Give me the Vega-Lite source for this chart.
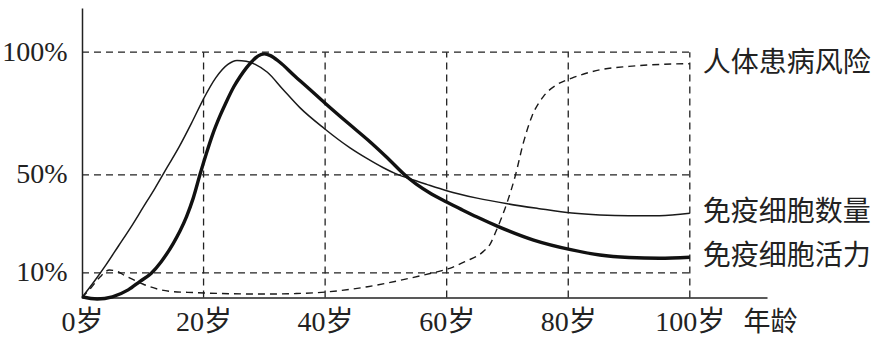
{
  "$schema": "https://vega.github.io/schema/vega-lite/v6.json",
  "autosize": "none",
  "padding": {"left": 82, "top": 8, "right": 127, "bottom": 40},
  "width": 685,
  "height": 289.5,
  "background": "white",
  "config": {"view": {"stroke": null}},
  "datasets": {
    "curves": [
      {"series": "免疫细胞数量", "age": 0, "value": 0},
      {"series": "免疫细胞数量", "age": 2, "value": 6.5},
      {"series": "免疫细胞数量", "age": 4, "value": 13.5},
      {"series": "免疫细胞数量", "age": 6, "value": 21},
      {"series": "免疫细胞数量", "age": 8, "value": 28.5},
      {"series": "免疫细胞数量", "age": 10, "value": 36.5},
      {"series": "免疫细胞数量", "age": 12, "value": 44.5},
      {"series": "免疫细胞数量", "age": 14, "value": 53},
      {"series": "免疫细胞数量", "age": 16, "value": 61.5},
      {"series": "免疫细胞数量", "age": 18, "value": 71},
      {"series": "免疫细胞数量", "age": 20, "value": 81},
      {"series": "免疫细胞数量", "age": 22, "value": 89.5},
      {"series": "免疫细胞数量", "age": 24, "value": 95},
      {"series": "免疫细胞数量", "age": 25.5, "value": 96.6},
      {"series": "免疫细胞数量", "age": 27, "value": 96.3},
      {"series": "免疫细胞数量", "age": 28.5, "value": 95},
      {"series": "免疫细胞数量", "age": 30.5, "value": 91.8},
      {"series": "免疫细胞数量", "age": 33, "value": 85},
      {"series": "免疫细胞数量", "age": 35.8, "value": 77.5},
      {"series": "免疫细胞数量", "age": 39.8, "value": 69},
      {"series": "免疫细胞数量", "age": 44.1, "value": 61},
      {"series": "免疫细胞数量", "age": 46.8, "value": 56.8},
      {"series": "免疫细胞数量", "age": 49.5, "value": 53},
      {"series": "免疫细胞数量", "age": 51.5, "value": 50.6},
      {"series": "免疫细胞数量", "age": 53.7, "value": 48.6},
      {"series": "免疫细胞数量", "age": 56.7, "value": 46.1},
      {"series": "免疫细胞数量", "age": 60, "value": 43.5},
      {"series": "免疫细胞数量", "age": 65, "value": 40.5},
      {"series": "免疫细胞数量", "age": 70, "value": 38.2},
      {"series": "免疫细胞数量", "age": 75, "value": 36.3},
      {"series": "免疫细胞数量", "age": 80.6, "value": 34.4},
      {"series": "免疫细胞数量", "age": 85.2, "value": 33.6},
      {"series": "免疫细胞数量", "age": 90, "value": 33.3},
      {"series": "免疫细胞数量", "age": 95, "value": 33.3},
      {"series": "免疫细胞数量", "age": 100, "value": 34.3},
      {"series": "免疫细胞活力", "age": 0, "value": 0.3},
      {"series": "免疫细胞活力", "age": 2.5, "value": -0.6},
      {"series": "免疫细胞活力", "age": 5, "value": 0.3},
      {"series": "免疫细胞活力", "age": 7.6, "value": 3.1},
      {"series": "免疫细胞活力", "age": 9.5, "value": 6.5},
      {"series": "免疫细胞活力", "age": 11.4, "value": 9.9},
      {"series": "免疫细胞活力", "age": 13, "value": 14.5},
      {"series": "免疫细胞活力", "age": 15, "value": 22},
      {"series": "免疫细胞活力", "age": 16.1, "value": 27},
      {"series": "免疫细胞活力", "age": 17.2, "value": 33},
      {"series": "免疫细胞活力", "age": 18.3, "value": 40.5},
      {"series": "免疫细胞活力", "age": 19.4, "value": 50},
      {"series": "免疫细胞活力", "age": 20.5, "value": 59},
      {"series": "免疫细胞活力", "age": 21.5, "value": 66.5},
      {"series": "免疫细胞活力", "age": 22.7, "value": 74},
      {"series": "免疫细胞活力", "age": 23.7, "value": 79.5},
      {"series": "免疫细胞活力", "age": 25, "value": 86},
      {"series": "免疫细胞活力", "age": 26, "value": 90},
      {"series": "免疫细胞活力", "age": 28, "value": 96.3},
      {"series": "免疫细胞活力", "age": 29, "value": 98.5},
      {"series": "免疫细胞活力", "age": 30, "value": 99.3},
      {"series": "免疫细胞活力", "age": 31, "value": 98.6},
      {"series": "免疫细胞活力", "age": 32.5, "value": 96},
      {"series": "免疫细胞活力", "age": 35, "value": 90.3},
      {"series": "免疫细胞活力", "age": 37.5, "value": 84.8},
      {"series": "免疫细胞活力", "age": 40, "value": 79.2},
      {"series": "免疫细胞活力", "age": 44, "value": 70.6},
      {"series": "免疫细胞活力", "age": 47, "value": 64.3},
      {"series": "免疫细胞活力", "age": 50, "value": 57.5},
      {"series": "免疫细胞活力", "age": 53.7, "value": 48.7},
      {"series": "免疫细胞活力", "age": 55, "value": 46.2},
      {"series": "免疫细胞活力", "age": 57.5, "value": 42.2},
      {"series": "免疫细胞活力", "age": 60, "value": 38.9},
      {"series": "免疫细胞活力", "age": 62.5, "value": 35.8},
      {"series": "免疫细胞活力", "age": 65, "value": 32.8},
      {"series": "免疫细胞活力", "age": 68.5, "value": 28.9},
      {"series": "免疫细胞活力", "age": 74.3, "value": 23.4},
      {"series": "免疫细胞活力", "age": 80.6, "value": 19.4},
      {"series": "免疫细胞活力", "age": 85.2, "value": 17.3},
      {"series": "免疫细胞活力", "age": 90, "value": 16.3},
      {"series": "免疫细胞活力", "age": 95, "value": 16},
      {"series": "免疫细胞活力", "age": 100, "value": 16.4},
      {"series": "人体患病风险", "age": 0, "value": 0},
      {"series": "人体患病风险", "age": 1.5, "value": 4},
      {"series": "人体患病风险", "age": 3, "value": 8.5},
      {"series": "人体患病风险", "age": 4.5, "value": 11.2},
      {"series": "人体患病风险", "age": 6, "value": 10.4},
      {"series": "人体患病风险", "age": 7, "value": 9},
      {"series": "人体患病风险", "age": 8.6, "value": 7.1},
      {"series": "人体患病风险", "age": 10, "value": 5.5},
      {"series": "人体患病风险", "age": 13, "value": 3.1},
      {"series": "人体患病风险", "age": 15, "value": 2.4},
      {"series": "人体患病风险", "age": 18.5, "value": 2},
      {"series": "人体患病风险", "age": 25, "value": 1.5},
      {"series": "人体患病风险", "age": 30, "value": 1.4},
      {"series": "人体患病风险", "age": 35, "value": 1.6},
      {"series": "人体患病风险", "age": 40, "value": 2.2},
      {"series": "人体患病风险", "age": 44, "value": 3.3},
      {"series": "人体患病风险", "age": 47, "value": 4.4},
      {"series": "人体患病风险", "age": 50, "value": 5.8},
      {"series": "人体患病风险", "age": 54, "value": 7.9},
      {"series": "人体患病风险", "age": 57.5, "value": 9.9},
      {"series": "人体患病风险", "age": 60.5, "value": 11.9},
      {"series": "人体患病风险", "age": 63, "value": 14.6},
      {"series": "人体患病风险", "age": 66, "value": 18.7},
      {"series": "人体患病风险", "age": 67.2, "value": 22},
      {"series": "人体患病风险", "age": 68.2, "value": 27.5},
      {"series": "人体患病风险", "age": 69.9, "value": 38.4},
      {"series": "人体患病风险", "age": 71.3, "value": 49.7},
      {"series": "人体患病风险", "age": 72.6, "value": 62.9},
      {"series": "人体患病风险", "age": 74, "value": 73.7},
      {"series": "人体患病风险", "age": 75.9, "value": 81.9},
      {"series": "人体患病风险", "age": 78.1, "value": 86.7},
      {"series": "人体患病风险", "age": 80.6, "value": 89.4},
      {"series": "人体患病风险", "age": 85.2, "value": 92.8},
      {"series": "人体患病风险", "age": 90, "value": 94.2},
      {"series": "人体患病风险", "age": 95, "value": 95},
      {"series": "人体患病风险", "age": 100, "value": 95.3}
    ],
    "hgrid": [{"v": 10}, {"v": 50}, {"v": 100}],
    "vgrid": [{"a": 20}, {"a": 40}, {"a": 60}, {"a": 80}, {"a": 100}]
  },
  "layer": [
    {
      "data": {"name": "hgrid"},
      "mark": {"type": "rule", "color": "#222", "strokeWidth": 1.3, "strokeDash": [7, 5]},
      "encoding": {
        "y": {"field": "v", "type": "quantitative", "scale": {"domain": [0, 118], "nice": false, "zero": false},
          "axis": {"values": [10, 50, 100], "labelExpr": "datum.value + '%'", "ticks": false, "grid": false,
            "domainColor": "#222", "domainWidth": 1.5, "labelPadding": 15, "labelFont": "Liberation Serif", "labelFontSize": 28,
            "labelColor": "#222", "title": null}},
        "x": {"datum": 0, "type": "quantitative", "scale": {"domain": [0, 112.7], "nice": false, "zero": false},
          "axis": {"values": [0, 20, 40, 60, 80, 100], "labelExpr": "datum.value + '岁'", "ticks": false, "grid": false,
            "domainColor": "#222", "domainWidth": 1.5, "labelPadding": 11, "labelDx": -4, "labelFont": "Liberation Serif, Noto Sans CJK SC", "labelFontSize": 28,
            "labelColor": "#222", "labelFlush": false, "labelOverlap": false,
            "title": "年龄", "titleFont": "Noto Sans CJK SC", "titleFontSize": 27, "titleFontWeight": "normal", "titleColor": "#222",
            "titleX": 688, "titleY": 12, "titleAlign": "center", "titleBaseline": "top"}},
        "x2": {"datum": 100}
      }
    },
    {
      "data": {"name": "vgrid"},
      "mark": {"type": "rule", "color": "#222", "strokeWidth": 1.3, "strokeDash": [7, 5]},
      "encoding": {
        "x": {"field": "a", "type": "quantitative"},
        "y": {"datum": 0, "type": "quantitative"},
        "y2": {"datum": 100}
      }
    },
    {
      "data": {"name": "curves"},
      "transform": [{"filter": "datum.series == '人体患病风险'"}],
      "mark": {"type": "line", "interpolate": "monotone", "color": "#1a1a1a", "strokeWidth": 1.4, "strokeDash": [7, 5]},
      "encoding": {
        "x": {"field": "age", "type": "quantitative"},
        "y": {"field": "value", "type": "quantitative"},
        "order": {"field": "age", "type": "quantitative"}
      }
    },
    {
      "data": {"name": "curves"},
      "transform": [{"filter": "datum.series == '免疫细胞数量'"}],
      "mark": {"type": "line", "interpolate": "monotone", "color": "#1a1a1a", "strokeWidth": 1.5},
      "encoding": {
        "x": {"field": "age", "type": "quantitative"},
        "y": {"field": "value", "type": "quantitative"},
        "order": {"field": "age", "type": "quantitative"}
      }
    },
    {
      "data": {"name": "curves"},
      "transform": [{"filter": "datum.series == '免疫细胞活力'"}],
      "mark": {"type": "line", "interpolate": "monotone", "color": "#111", "strokeWidth": 3.4},
      "encoding": {
        "x": {"field": "age", "type": "quantitative"},
        "y": {"field": "value", "type": "quantitative"},
        "order": {"field": "age", "type": "quantitative"}
      }
    },
    {
      "data": {"name": "curves"},
      "transform": [{"filter": "datum.age == 100"}],
      "mark": {"type": "text", "align": "left", "baseline": "middle", "dx": 13, "font": "Noto Sans CJK SC", "fontSize": 28, "color": "#222"},
      "encoding": {
        "x": {"field": "age", "type": "quantitative"},
        "y": {"field": "value", "type": "quantitative"},
        "text": {"field": "series"}
      }
    },
    {
      "mark": {"type": "point", "shape": "triangle-up", "filled": true, "size": 100, "color": "#222", "opacity": 1},
      "encoding": {"x": {"datum": 0, "type": "quantitative"}, "y": {"datum": 118, "type": "quantitative"}}
    },
    {
      "mark": {"type": "point", "shape": "triangle-right", "filled": true, "size": 110, "color": "#222", "opacity": 1},
      "encoding": {"x": {"datum": 112.7, "type": "quantitative"}, "y": {"datum": 0, "type": "quantitative"}}
    }
  ]
}
